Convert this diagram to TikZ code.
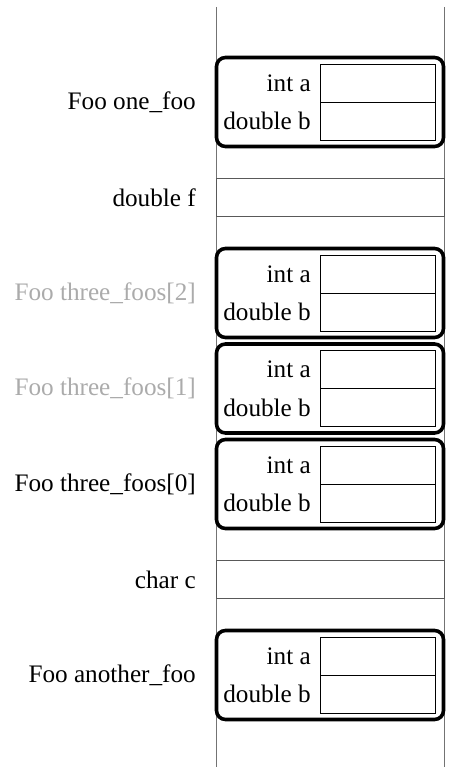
\documentclass[tikz,border=0pt]{standalone}
\usepackage{fontspec}
\setmainfont{Liberation Serif}
\begin{document}
\begin{tikzpicture}[x=1pt,y=-1pt,
  lbl/.style={anchor=east, inner sep=0pt, font=\fontsize{25.2}{30}\selectfont},
  faded/.style={text=black!33},
  foobox/.style={draw, line width=3.6pt, rounded corners=9pt, minimum width=227pt, minimum height=89pt, inner sep=0pt},
  cellbox/.style={draw, line width=0.8pt, minimum width=115pt, minimum height=38pt, inner sep=0pt},
  rowbox/.style={draw=black!65, line width=0.8pt, minimum width=228pt, minimum height=38pt, inner sep=0pt},
  rail/.style={draw=black!55, line width=1pt}]
\useasboundingbox (0,0) rectangle (448,767);
% rails
\coordinate (lt) at (216,7);
\coordinate (lb) at (216,767);
\coordinate (rt) at (444.3,7);
\coordinate (rb) at (444.3,767);
\draw[rail] (lt) -- (lb);
\draw[rail] (rt) -- (rb);
% plain rows
\node[rowbox] (rowf) at (330.15,197.5) {};
\node[lbl] (lblf) at (196,197.5) {double f};
\node[rowbox] (rowc) at (330.15,579.5) {};
\node[lbl] (lblc) at (196,579.5) {char c};
% struct boxes
\foreach \nm/\y/\txt/\st in {one/102/{Foo one\_foo}/black, two/293/{Foo three\_foos[2]}/black!33, onef/388.5/{Foo three\_foos[1]}/black!33, zero/484/{Foo three\_foos[0]}/black, ano/675/{Foo another\_foo}/black}{
  \node[foobox] (box\nm) at (330,\y) {};
  \node[cellbox] (ca\nm) at (378.2,\y-19) {};
  \node[cellbox] (cb\nm) at (378.2,\y+19) {};
  \node[lbl] (la\nm) at (311,\y-19) {int a};
  \node[lbl] (lb\nm) at (311,\y+19) {double b};
  \node[lbl, text=\st] (name\nm) at (196,\y) {\txt};
}
\end{tikzpicture}
\end{document}
